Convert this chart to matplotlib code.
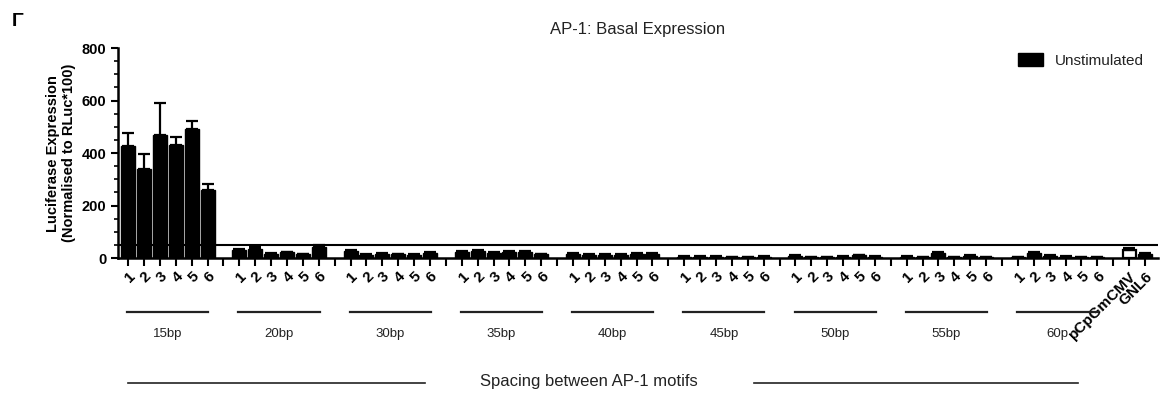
import matplotlib
matplotlib.use('Agg')
import matplotlib.pyplot as plt
from matplotlib.ticker import MultipleLocator
import numpy as np

plt.rcParams['font.family'] = ['Liberation Sans', 'DejaVu Sans']

# data
groups = ['15bp', '20bp', '30bp', '35bp', '40bp', '45bp', '50bp', '55bp', '60p']
sub_labels = ['1', '2', '3', '4', '5', '6']
values = [
    [428, 341, 467, 432, 492, 259],   # 15bp
    [32, 33, 15, 22, 14, 42],         # 20bp
    [28, 12, 15, 14, 12, 20],         # 30bp
    [24, 26, 20, 22, 24, 14],         # 35bp
    [16, 12, 12, 13, 17, 17],         # 40bp
    [5, 5, 5, 3, 3, 5],               # 45bp
    [8, 3, 3, 5, 10, 5],              # 50bp
    [5, 3, 18, 3, 8, 3],              # 55bp
    [3, 18, 8, 5, 3, 3],              # 60p
]
errors = [
    [48, 55, 125, 28, 32, 22],
    [3, 8, 3, 3, 3, 6],
    [3, 3, 3, 3, 3, 3],
    [3, 5, 3, 4, 4, 2],
    [2, 2, 2, 2, 3, 3],
    [2, 2, 2, 2, 2, 3],
    [2, 2, 2, 2, 3, 2],
    [2, 2, 4, 2, 3, 2],
    [2, 4, 2, 2, 2, 2],
]
ctrl_labels = ['pCpGmCMV', 'GNL6']
ctrl_values = [30, 14]
ctrl_errors = [10, 5]
basal_line = 50

fig = plt.figure(figsize=(11.63, 3.94), dpi=100)
ax = fig.add_axes([0.1015, 0.345, 0.894, 0.533])

# slot positions: 6 bars + 1 empty slot per group
xpos, tick_labels = [], []
for g in range(len(groups)):
    for j in range(6):
        xpos.append(7 * g + j)
        tick_labels.append(sub_labels[j])
    xpos.append(7 * g + 6)
    tick_labels.append('')
n_slots = len(xpos)
ctrl_x = [n_slots, n_slots + 1]

bar_x = [7 * g + j for g in range(len(groups)) for j in range(6)]
bar_v = [v for row in values for v in row]
bar_e = [e for row in errors for e in row]

w = 0.88
ekw = dict(ecolor='black', capsize=4, elinewidth=1.6, capthick=1.6)
ax.bar(bar_x, bar_v, width=w, color='black', edgecolor='black',
       yerr=[np.zeros(len(bar_e)), bar_e], error_kw=ekw, label='Unstimulated', zorder=3)
ax.bar(ctrl_x[0], ctrl_values[0], width=w * 0.95, color='white', edgecolor='black', linewidth=1.6,
       yerr=[[0], [ctrl_errors[0]]], error_kw=ekw, zorder=3)
ax.bar(ctrl_x[1], ctrl_values[1], width=w, color='black', edgecolor='black',
       yerr=[[0], [ctrl_errors[1]]], error_kw=ekw, zorder=3)

ax.axhline(basal_line, color='black', lw=1.5, zorder=4)

ax.set_xlim(-0.63, ctrl_x[1] + 0.8)
ax.set_ylim(0, 800)
ax.yaxis.set_major_locator(MultipleLocator(200))
ax.yaxis.set_minor_locator(MultipleLocator(50))
ax.set_xticks(xpos + ctrl_x)
ax.set_xticklabels(tick_labels + ctrl_labels, rotation=45, ha='right', va='top',
                   rotation_mode='anchor', fontsize=11, fontweight='bold')
for lab in ax.get_yticklabels():
    lab.set_fontweight('bold')
ax.tick_params(axis='y', labelsize=10.5, width=1.5, length=5, direction='out')
ax.tick_params(axis='y', which='minor', width=1.2, length=3)
ax.tick_params(axis='x', width=1.5, length=6, direction='out', pad=2)
for s in ['top', 'right']:
    ax.spines[s].set_visible(False)
for s in ['left', 'bottom']:
    ax.spines[s].set_linewidth(1.8)

ax.set_ylabel('Luciferase Expression\n(Normalised to RLuc*100)', fontsize=10.5,
              fontweight='bold', labelpad=4)
ax.set_title('AP-1: Basal Expression', fontsize=12, color='#222222', pad=10)

# legend
ax.legend(loc='upper right', bbox_to_anchor=(1.0, 1.04), frameon=False, fontsize=11,
          handlelength=1.6, handleheight=0.9, labelcolor='#222222')

# group labels with lines underneath the axis
trans = ax.get_xaxis_transform()
for g, name in enumerate(groups):
    x0, x1 = 7 * g - 0.05, 7 * g + 5.05
    ax.plot([x0, x1], [-0.257, -0.257], transform=trans, color='#222222', lw=1.6, clip_on=False)
    ax.text((x0 + x1) / 2, -0.36, name, transform=trans, ha='center', va='center',
            fontsize=9.5, color='#222222')

# overall label
ax.plot([0, 18.7], [-0.595, -0.595], transform=trans, color='#222222', lw=1.2, clip_on=False)
ax.plot([39.4, 59.8], [-0.595, -0.595], transform=trans, color='#222222', lw=1.2, clip_on=False)
ax.text(29.0, -0.59, 'Spacing between AP-1 motifs', transform=trans, ha='center', va='center',
        fontsize=12, color='#222222')

fig.text(0.010, 0.945, 'Γ', fontsize=14, fontweight='bold', ha='left', va='center')

fig.savefig('out.png', dpi=100)
